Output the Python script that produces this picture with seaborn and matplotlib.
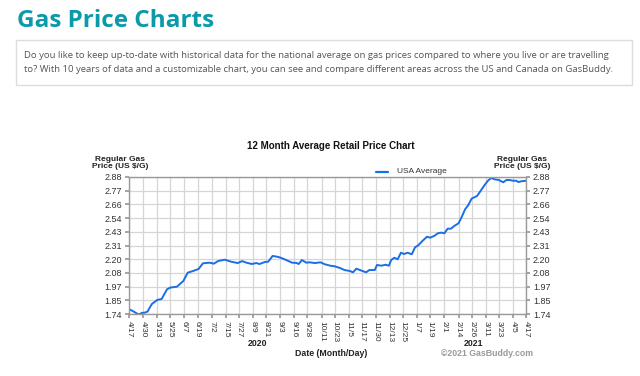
import matplotlib
matplotlib.use("Agg")
import matplotlib.pyplot as plt
from matplotlib.patches import Rectangle
import seaborn as sns
import pandas as pd

# ---- data ----
start_date = "2020-04-17"
day_offsets = [0, 3, 9, 12, 14, 17, 21, 26, 30, 35, 38, 44, 50, 54, 59, 64, 68, 74, 78, 82,
               88, 94, 100, 104, 108, 113, 117, 120, 125, 128, 132, 136, 139, 143, 150, 154,
               156, 159, 163, 166, 171, 176, 180, 185, 189, 194, 198, 203, 206, 209, 214,
               218, 221, 226, 228, 232, 236, 239, 241, 244, 247, 250, 253, 256, 260, 263,
               266, 270, 274, 277, 281, 284, 287, 290, 293, 296, 299, 303, 306, 309, 312,
               315, 320, 323, 327, 330, 333, 336, 340, 344, 347, 350, 353, 356, 358, 361, 365]
usa_avg = [1.780, 1.767, 1.735, 1.750, 1.750, 1.760, 1.823, 1.857, 1.865, 1.946, 1.960, 1.967,
           2.015, 2.084, 2.098, 2.115, 2.162, 2.167, 2.159, 2.181, 2.192, 2.175, 2.164, 2.180,
           2.167, 2.156, 2.164, 2.156, 2.173, 2.175, 2.223, 2.217, 2.210, 2.195, 2.167, 2.165,
           2.156, 2.189, 2.167, 2.170, 2.164, 2.170, 2.154, 2.142, 2.137, 2.123, 2.106, 2.098,
           2.087, 2.117, 2.100, 2.087, 2.106, 2.106, 2.148, 2.142, 2.150, 2.142, 2.189, 2.208,
           2.195, 2.250, 2.239, 2.250, 2.237, 2.295, 2.312, 2.350, 2.383, 2.375, 2.392, 2.412,
           2.417, 2.412, 2.450, 2.450, 2.472, 2.495, 2.550, 2.611, 2.647, 2.700, 2.722, 2.761,
           2.814, 2.849, 2.872, 2.861, 2.855, 2.836, 2.855, 2.855, 2.849, 2.849, 2.838, 2.845,
           2.849]
x_tick_dates = ["2020-04-17", "2020-04-30", "2020-05-13", "2020-05-25", "2020-06-07",
                "2020-06-19", "2020-07-02", "2020-07-15", "2020-07-27", "2020-08-09",
                "2020-08-21", "2020-09-03", "2020-09-16", "2020-09-28", "2020-10-11",
                "2020-10-23", "2020-11-05", "2020-11-17", "2020-11-30", "2020-12-13",
                "2020-12-25", "2021-01-07", "2021-01-19", "2021-02-01", "2021-02-14",
                "2021-02-26", "2021-03-11", "2021-03-23", "2021-04-05", "2021-04-17"]
x_tick_labels = ["4/17", "4/30", "5/13", "5/25", "6/7", "6/19", "7/2", "7/15", "7/27", "8/9",
                 "8/21", "9/3", "9/16", "9/28", "10/11", "10/23", "11/5", "11/17", "11/30",
                 "12/13", "12/25", "1/7", "1/19", "2/1", "2/14", "2/26", "3/11", "3/23",
                 "4/5", "4/17"]
y_tick_labels = ["1.74", "1.85", "1.97", "2.08", "2.20", "2.31", "2.43", "2.54", "2.66",
                 "2.77", "2.88"]
series_name = "USA Average"

# ---- build ----
df = pd.DataFrame({
    "date": pd.to_datetime(start_date) + pd.to_timedelta(day_offsets, unit="D"),
    "price": usa_avg,
    "series": series_name,
})
xt = pd.to_datetime(x_tick_dates)
y_min, y_max = float(y_tick_labels[0]), float(y_tick_labels[-1])
yt = [y_min + i * (y_max - y_min) / (len(y_tick_labels) - 1) for i in range(len(y_tick_labels))]

sns.set_theme(style="white")
plt.rcParams["font.family"] = ["Liberation Sans", "DejaVu Sans"]

W, H = 640, 376
fig = plt.figure(figsize=(W / 100, H / 100), dpi=100)
fig.patch.set_facecolor("white")

def fx(px):
    return px / W

def fy(py):
    return 1 - py / H

# page header
fig.text(fx(17), fy(21), "Gas Price Charts", family=["Open Sans", "DejaVu Sans"],
         fontweight="bold", fontsize=17.5, color="#0a9aaa", va="center", ha="left")
fig.patches.append(Rectangle((fx(16), fy(85)), fx(632) - fx(16), fy(40) - fy(85),
                             transform=fig.transFigure, fill=False, edgecolor="#dddddd",
                             linewidth=1.0))
fig.text(fx(24), fy(56), "Do you like to keep up-to-date with historical data for the national average on gas prices compared to where you live or are travelling",
         family=["Open Sans", "DejaVu Sans"], fontsize=6.83, color="#555555", va="center", ha="left")
fig.text(fx(24), fy(70), "to? With 10 years of data and a customizable chart, you can see and compare different areas across the US and Canada on GasBuddy.",
         family=["Open Sans", "DejaVu Sans"], fontsize=6.83, color="#555555", va="center", ha="left")

# chart axes
ax = fig.add_axes([fx(129), fy(314), (526 - 129) / W, (314 - 177) / H])
sns.lineplot(data=df, x="date", y="price", hue="series", palette=["#1a6ee6"],
             linewidth=1.4, ax=ax, legend=False)
ax.set_xlim(xt[0], xt[-1])
ax.set_ylim(y_min, y_max)
ax.set_xticks(xt)
ax.set_xticklabels(x_tick_labels, rotation=270, fontsize=6, color="#333333")
ax.set_yticks(yt)
ax.set_yticklabels(y_tick_labels, fontsize=6.5, color="#333333")
ax.set_xlabel("")
ax.set_ylabel("")
ax.grid(True, color="#d6d6d6", linewidth=0.9)
ax.set_axisbelow(True)
for s in ax.spines.values():
    s.set_color("#999999")
    s.set_linewidth(1.0)
ax.tick_params(axis="both", length=3, color="#999999", pad=2)
ax.tick_params(axis="y", left=True, labelleft=True)
ax.tick_params(axis="x", bottom=True)

ax2 = ax.twinx()
ax2.set_ylim(y_min, y_max)
ax2.set_yticks(yt)
ax2.set_yticklabels(y_tick_labels, fontsize=6.5, color="#333333")
ax2.tick_params(axis="y", length=3, color="#999999", pad=2)
ax2.grid(False)
for s in ax2.spines.values():
    s.set_visible(False)

# chart texts
fig.text(fx(331), fy(146), "12 Month Average Retail Price Chart", fontsize=7, fontweight="bold",
         color="#111111", ha="center", va="center")
fig.text(fx(120), fy(163), "Regular Gas\nPrice (US $/G)", fontsize=6, fontweight="bold",
         color="#222222", ha="center", va="center", linespacing=1.15)
fig.text(fx(522), fy(163), "Regular Gas\nPrice (US $/G)", fontsize=6, fontweight="bold",
         color="#222222", ha="center", va="center", linespacing=1.15)
fig.lines.append(plt.Line2D([fx(376), fx(388)], [fy(172), fy(172)], transform=fig.transFigure,
                            color="#1a6ee6", linewidth=1.6))
fig.text(fx(397), fy(172), series_name, fontsize=6, color="#333333", ha="left", va="center")
fig.text(fx(258), fy(343), "2020", fontsize=6.3, fontweight="bold", color="#222222",
         ha="center", va="center")
fig.text(fx(473), fy(343), "2021", fontsize=6.3, fontweight="bold", color="#222222",
         ha="center", va="center")
fig.text(fx(331), fy(353), "Date (Month/Day)", fontsize=6.3, fontweight="bold", color="#222222",
         ha="center", va="center")
fig.text(fx(533), fy(353), "\u00a92021 GasBuddy.com", fontsize=6.3, fontweight="bold",
         color="#999999", ha="right", va="center")

fig.savefig("out.png", dpi=100, facecolor="white")
